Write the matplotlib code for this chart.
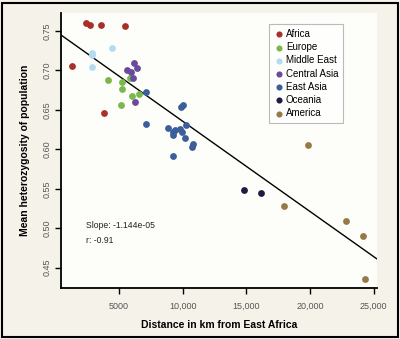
import numpy as np
import matplotlib.pyplot as plt
from matplotlib.patches import Rectangle

plt.rcParams['font.family'] = ['Liberation Sans', 'DejaVu Sans']

# distance from East Africa (km) and mean heterozygosity, per region
regions = ['Africa', 'Europe', 'Middle East', 'Central Asia', 'East Asia', 'Oceania', 'America']
colors = ['#a8302b', '#79b84a', '#b4dcf0', '#6a4a9c', '#3c5e9a', '#1b1c40', '#957a48']

africa_x = [2390, 2720, 3590, 5450, 1310, 3850]
africa_y = [0.760, 0.757, 0.757, 0.756, 0.705, 0.646]
europe_x = [4110, 5260, 5235, 5860, 6000, 6590, 5160]
europe_y = [0.688, 0.685, 0.677, 0.690, 0.6675, 0.670, 0.6565]
mideast_x = [2860, 2920, 2860, 4430]
mideast_y = [0.7217, 0.7195, 0.7047, 0.7284]
casia_x = [5600, 6180, 6440, 5940, 6120, 6230]
casia_y = [0.7005, 0.7098, 0.7034, 0.6984, 0.690, 0.660]
easia_x = [7100, 7100, 9870, 10050, 8870, 9215, 9400, 9260, 9790, 9920,
           10260, 10180, 10830, 10750, 9260]
easia_y = [0.673, 0.6316, 0.6539, 0.6561, 0.6265, 0.6214, 0.6244, 0.618, 0.6253, 0.6222,
           0.6307, 0.6146, 0.6062, 0.6032, 0.5914]
oceania_x = [14810, 16120]
oceania_y = [0.5482, 0.5448]
america_x = [19810, 17950, 22820, 24180, 24310]
america_y = [0.6057, 0.5283, 0.5089, 0.4907, 0.4362]

xs = [africa_x, europe_x, mideast_x, casia_x, easia_x, oceania_x, america_x]
ys = [africa_y, europe_y, mideast_y, casia_y, easia_y, oceania_y, america_y]

slope = -1.144e-05
intercept = 0.750
r_value = -0.91

xticks = [5000, 10000, 15000, 20000, 25000]
xtick_labels = ['5000', '10,000', '15,000', '20,000', '25,000']
yticks = [0.45, 0.50, 0.55, 0.60, 0.65, 0.70, 0.75]
ytick_labels = ['0.45', '0.50', '0.55', '0.60', '0.65', '0.70', '0.75']

fig = plt.figure(figsize=(4, 3.39), dpi=100, facecolor='#f4f2e9')
ax = fig.add_axes([0.1525, 0.1513, 0.789, 0.811])
ax.set_facecolor('#fdfdf9')

for name, c, x, y in zip(regions, colors, xs, ys):
    ax.scatter(x, y, s=24, color=c, label=name, linewidths=0, zorder=3)

ax.axline((0, intercept), slope=slope, color='black', lw=1.0, zorder=2)

ax.set_xlim(450, 25230)
ax.set_ylim(0.4246, 0.773)

ax.set_xticks(xticks)
ax.set_xticklabels(xtick_labels)
ax.set_yticks(yticks)
ax.set_yticklabels(ytick_labels, rotation=90, va='center')
ax.tick_params(axis='both', labelsize=6.5, labelcolor='#555555', length=4, width=1, direction='out')
ax.tick_params(axis='x', pad=6)
ax.tick_params(axis='y', pad=3)

for s in ['top', 'right']:
    ax.spines[s].set_visible(False)
for s in ['left', 'bottom']:
    ax.spines[s].set_linewidth(1.3)

ax.set_xlabel('Distance in km from East Africa', fontsize=7.5, fontweight='bold', labelpad=7)
ax.set_ylabel('Mean heterozygosity of population', fontsize=7.5, fontweight='bold', labelpad=9)

ax.text(2390, 0.5038, 'Slope: %.3e' % slope, fontsize=6.2, color='#222222', va='center')
ax.text(2390, 0.4848, 'r: %.2f' % r_value, fontsize=6.2, color='#222222', va='center')

leg = ax.legend(loc='upper left', bbox_to_anchor=(0.66, 0.959), borderaxespad=0, fontsize=7,
                frameon=True, fancybox=False, edgecolor='#aaaaaa', handletextpad=0.2,
                borderpad=0.5, labelspacing=0.33, markerscale=0.9, handlelength=1.0)
leg.get_frame().set_linewidth(0.8)

fig.patches.append(Rectangle((0.004, 0.006), 0.99, 0.985, transform=fig.transFigure,
                             fill=False, edgecolor='black', lw=1.5))

fig.savefig('out.png', dpi=100, facecolor=fig.get_facecolor())
